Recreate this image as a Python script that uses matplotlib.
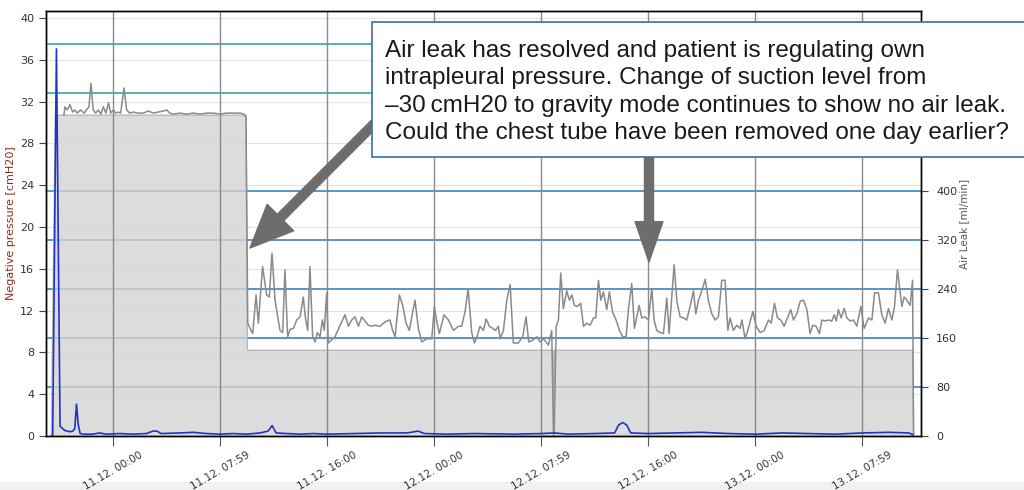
import matplotlib.pyplot as plt
from matplotlib.patches import Rectangle, FancyArrowPatch

# x values are hours after 11.12. 00:00
tick_hours = [0, 8, 16, 24, 32, 40, 48, 56]
tick_labels = ['11.12. 00:00', '11.12. 07:59', '11.12. 16:00', '12.12. 00:00',
               '12.12. 07:59', '12.12. 16:00', '13.12. 00:00', '13.12. 07:59']

left_ticks = [0, 4, 8, 12, 16, 20, 24, 28, 32, 36, 40]
right_ticks = [0, 80, 160, 240, 320, 400]
right_lines = [80, 160, 240, 320, 400, 560, 640]

# suction level set on the drain [cmH20]
suction_h = [-4.6, -4.3, 9.95, 10.05, 32.9, 32.93, 32.98, 33.01, 59.8, 59.85]
suction_v = [0, 30.7, 30.7, 8.2, 8.2, 0, 0, 8.2, 8.2, 0]

# measured negative pressure [cmH20] as (hour, value)
pressure = [
    (-3.66, 30.7), (-3.59, 31.5), (-3.41, 31.2), (-3.21, 31.7), (-3.01, 31.0), (-2.84, 31.2),
    (-2.66, 30.9), (-2.41, 31.2), (-2.16, 30.9), (-1.97, 31.2), (-1.79, 31.5), (-1.64, 33.75),
    (-1.47, 31.2), (-1.29, 30.9), (-1.09, 31.2), (-0.89, 30.8), (-0.72, 31.5), (-0.52, 30.9),
    (-0.32, 31.9), (-0.17, 30.9), (0.03, 31.2), (0.20, 30.9), (0.40, 31.0), (0.58, 30.9),
    (0.83, 33.3), (1.03, 31.2), (1.27, 30.9), (1.52, 31.0), (1.90, 30.9), (2.27, 30.9),
    (2.65, 31.1), (3.02, 30.9), (3.39, 31.0), (3.77, 31.1), (4.02, 31.2), (4.26, 30.9),
    (4.51, 30.8), (5.01, 30.9), (5.51, 30.8), (6.01, 30.9), (6.51, 30.8), (7.01, 30.9),
    (7.50, 30.9), (8.00, 30.8), (8.50, 30.9), (9.00, 30.9), (9.50, 30.9), (9.80, 30.8),
    (9.95, 30.5), (10.08, 10.8),
    (10.25, 10.3), (10.45, 9.8), (10.70, 13.5), (10.87, 10.8), (11.19, 16.2), (11.49, 13.5),
    (11.69, 13.3), (11.89, 17.5), (12.12, 13.0), (12.49, 10.1), (12.69, 9.9), (12.86, 15.9),
    (13.06, 9.5), (13.24, 10.2), (13.49, 10.3), (13.74, 11.1), (13.99, 11.4), (14.23, 13.3),
    (14.38, 11.4), (14.56, 10.1), (14.73, 16.2), (14.93, 9.5), (15.11, 9.0), (15.28, 9.9),
    (15.48, 9.5), (15.66, 11.1), (15.80, 10.1), (15.98, 13.7), (16.10, 8.9), (16.35, 9.2),
    (16.60, 9.5), (16.98, 10.6), (17.35, 11.6), (17.60, 10.5), (17.85, 11.1), (18.10, 11.4),
    (18.35, 10.5), (18.60, 11.4), (18.85, 11.0), (19.09, 10.6), (19.34, 10.5), (19.59, 10.6),
    (19.97, 10.5), (20.22, 10.8), (20.46, 11.0), (20.71, 11.1), (20.91, 10.1), (21.09, 9.5),
    (21.41, 13.5), (21.66, 12.5), (21.91, 10.8), (22.16, 10.1), (22.41, 11.9), (22.58, 13.0),
    (22.83, 10.3), (23.08, 9.0), (23.46, 9.3), (23.83, 9.3), (24.03, 12.4), (24.20, 11.0),
    (24.40, 9.8), (24.75, 11.6), (25.08, 11.1), (25.45, 10.1), (25.82, 10.5), (26.07, 10.5),
    (26.32, 11.9), (26.55, 14.1), (26.82, 9.9), (27.02, 8.9), (27.24, 9.6), (27.44, 10.5),
    (27.69, 10.1), (27.89, 11.2), (28.14, 10.5), (28.39, 10.3), (28.59, 10.1), (28.81, 10.5),
    (28.94, 9.3), (29.19, 10.1), (29.44, 13.0), (29.69, 14.5), (29.93, 8.9), (30.31, 8.9),
    (30.63, 9.5), (30.88, 11.4), (31.08, 9.0), (31.43, 9.2), (31.68, 9.5), (31.93, 9.0),
    (32.18, 9.3), (32.55, 8.7), (32.80, 10.1), (32.93, 0.2), (32.98, 0.2), (33.13, 10.5),
    (33.30, 11.1), (33.47, 15.6), (33.67, 12.2), (33.92, 13.9), (34.12, 13.0), (34.30, 13.5),
    (34.50, 12.5), (34.72, 12.4), (34.97, 12.7), (35.17, 10.5), (35.42, 10.8), (35.67, 10.6),
    (35.92, 11.3), (36.09, 11.3), (36.29, 14.9), (36.47, 13.0), (36.66, 13.8), (36.91, 12.1),
    (37.11, 13.8), (37.34, 11.9), (37.61, 11.1), (37.86, 10.1), (38.11, 9.5), (38.36, 9.5),
    (38.53, 12.1), (38.78, 14.6), (38.98, 10.3), (39.16, 11.4), (39.33, 12.5), (39.53, 11.3),
    (39.78, 11.4), (40.03, 11.1), (40.28, 14.1), (40.45, 11.1), (40.65, 10.1), (40.90, 9.9),
    (41.15, 9.8), (41.40, 13.2), (41.57, 9.8), (41.77, 13.2), (41.95, 16.4), (42.15, 12.9),
    (42.40, 11.4), (42.65, 11.3), (42.89, 11.1), (43.14, 12.4), (43.39, 13.9), (43.57, 11.7),
    (43.77, 13.0), (44.02, 13.9), (44.27, 15.0), (44.52, 12.9), (44.76, 11.7), (45.01, 11.1),
    (45.26, 11.4), (45.51, 14.9), (45.76, 14.9), (45.96, 10.1), (46.13, 11.3), (46.38, 10.1),
    (46.63, 10.6), (46.88, 10.3), (47.01, 11.1), (47.26, 9.3), (47.50, 10.3), (47.83, 11.9),
    (48.08, 10.5), (48.38, 9.9), (48.68, 10.1), (49.00, 11.1), (49.20, 10.8), (49.45, 12.7),
    (49.67, 11.3), (49.92, 11.1), (50.17, 10.5), (50.42, 11.3), (50.67, 12.1), (50.87, 11.1),
    (51.12, 11.7), (51.37, 12.9), (51.62, 13.0), (51.87, 12.1), (52.11, 9.8), (52.31, 10.6),
    (52.56, 10.5), (52.81, 9.8), (52.99, 11.1), (53.24, 11.0), (53.49, 11.1), (53.74, 11.0),
    (53.91, 11.6), (54.06, 11.0), (54.23, 12.1), (54.43, 11.3), (54.66, 12.2), (54.86, 11.3),
    (55.11, 11.0), (55.36, 11.1), (55.60, 10.5), (55.90, 12.4), (56.15, 10.3), (56.48, 11.3),
    (56.73, 11.1), (56.93, 13.7), (57.22, 13.7), (57.47, 11.6), (57.72, 10.8), (57.97, 12.2),
    (58.22, 11.1), (58.42, 12.4), (58.64, 15.9), (58.97, 12.4), (59.14, 13.3), (59.34, 13.0),
    (59.59, 12.5), (59.77, 14.9), (59.84, 0.2),
]

# air leak [ml/min] as (hour, value)
leak = [
    (-4.6, 0), (-4.5, 0), (-4.22, 632), (-3.95, 16), (-3.8, 13), (-3.6, 9), (-3.4, 8),
    (-3.2, 7), (-3.0, 8), (-2.85, 12), (-2.72, 52), (-2.6, 20), (-2.45, 4), (-2.2, 3),
    (-1.5, 3), (-1.0, 5), (-0.5, 3), (0.5, 4), (1.5, 3), (2.5, 4), (3.0, 8), (3.3, 8),
    (3.6, 4), (5, 5), (6, 6), (7, 4), (8, 3), (9, 4), (10, 3), (11, 5), (11.6, 8),
    (11.9, 17), (12.2, 5), (13, 4), (14, 3), (15, 4), (16, 3), (18, 4), (20, 5), (22, 5),
    (22.8, 8), (23.3, 4), (25, 3), (27, 4), (30, 3), (32, 4), (33, 5), (34, 3), (36, 4),
    (37.5, 5), (37.8, 18), (38.1, 22), (38.4, 18), (38.7, 5), (40, 4), (42, 5), (44, 6),
    (46, 4), (48, 3), (50, 5), (52, 4), (54, 3), (56, 5), (58, 6), (59.5, 5), (59.8, 2),
]

note = ['Air leak has resolved and patient is regulating own',
        'intrapleural pressure. Change of suction level from',
        '\u201330\u2009cmH20 to gravity mode continues to show no air leak.',
        'Could the chest tube have been removed one day earlier?']

W, H = 1024, 490
fig = plt.figure(figsize=(W / 100, H / 100), dpi=100)
ax = fig.add_axes([46 / W, 54 / H, 875 / W, 425 / H])
ax2 = ax.twinx()

ax.set_xlim(-5.0, 60.4)
ax.set_ylim(0, 40.67)
ax2.set_ylim(0, 694)

# light grid for the left scale, coloured lines for the right scale
for v in left_ticks[1:]:
    ax.axhline(v, color='#e3e3e3', lw=0.8, zorder=0.8)
for v in right_lines:
    c = '#2f9a9a' if v > 500 else '#2b78b4'
    ax.plot([0, 1], [v, v], transform=ax2.get_yaxis_transform(), color=c, lw=1.1, zorder=1)

ax.fill_between(suction_h, suction_v, 0, color='#d4d4d4', alpha=0.8, lw=0, zorder=2)
ax.plot(suction_h, suction_v, color='#b8b8b8', lw=1, zorder=2.1)
for h in tick_hours:
    ax.axvline(h, color='#8a8a8a', lw=1, zorder=2.5)

ax.plot([p[0] for p in pressure], [p[1] for p in pressure], color='#8a8a8a', lw=1.1, zorder=3)
ax2.plot([p[0] for p in leak], [p[1] for p in leak], color='#2233cc', lw=1.2)

ax.set_yticks(left_ticks)
ax.set_xticks(tick_hours, tick_labels, rotation=30, ha='center')
ax.tick_params(axis='y', length=5, labelsize=8, color='#444444', labelcolor='#333333')
ax.tick_params(axis='x', length=7, labelsize=7.5, color='#555555', labelcolor='#333333', pad=3)
ax2.set_yticks(right_ticks)
ax2.tick_params(axis='y', length=5, labelsize=8, color='#444444', labelcolor='#333333', pad=6)

ax.set_ylabel('Negative pressure [cmH20]', color='#8b2e1e', fontsize=8, labelpad=3)
ax2.set_ylabel('Air Leak [ml/min]', color='#555555', fontsize=7.5, labelpad=1)

for a in (ax, ax2):
    for s in a.spines.values():
        s.set_color('black')
        s.set_linewidth(1)

fig.add_artist(Rectangle((0, 0), 1, 8 / H, transform=fig.transFigure,
                         color='#f1f1f1', zorder=-1))

# arrows pointing from the note to the chart
fig.add_artist(FancyArrowPatch((400 / W, 1 - 98 / H), (250 / W, 1 - 248 / H),
                               transform=fig.transFigure, color='#6d6d6d',
                               arrowstyle='simple,head_length=31,head_width=27,tail_width=6.5',
                               shrinkA=0, shrinkB=0, zorder=9))
fig.add_artist(FancyArrowPatch((649 / W, 1 - 140 / H), (649 / W, 1 - 262 / H),
                               transform=fig.transFigure, color='#6d6d6d',
                               arrowstyle='simple,head_length=29,head_width=20,tail_width=6.5',
                               shrinkA=0, shrinkB=0, zorder=9))

fig.add_artist(Rectangle((372 / W, 1 - 157 / H), 670 / W, 135 / H, transform=fig.transFigure,
                         facecolor='white', edgecolor='#3b6ea5', lw=1.2, zorder=10))
for i, t in enumerate(note):
    fig.text(385 / W, 1 - (57 + 27.4 * i) / H, t, fontsize=17.5, color='#1a1a1a',
             family=['Liberation Sans', 'DejaVu Sans'], va='baseline', zorder=11)

fig.savefig('out.png', dpi=100)
